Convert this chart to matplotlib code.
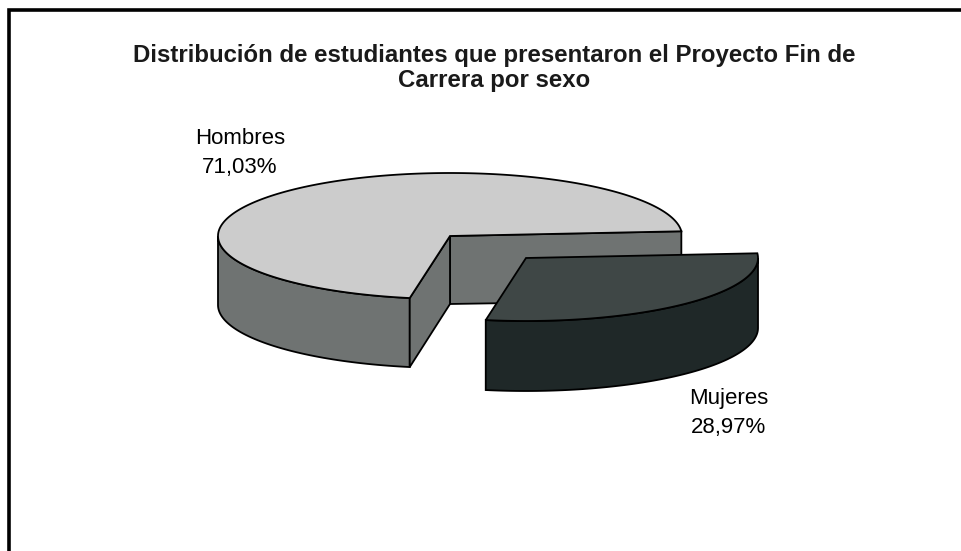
import numpy as np
import matplotlib
matplotlib.use("Agg")
import matplotlib.pyplot as plt

W, H = 961, 551
title = "Distribución de estudiantes que presentaron el Proyecto Fin de\nCarrera por sexo"
labels = ["Hombres", "Mujeres"]
values = [71.03, 28.97]
value_text = ["71,03%", "28,97%"]

plt.rcParams["font.family"] = ["Liberation Sans", "DejaVu Sans"]

fig = plt.figure(figsize=(W / 100, H / 100), dpi=100)
ax = fig.add_axes([0, 0, 1, 1])
ax.set_xlim(0, W)
ax.set_ylim(H, 0)
ax.axis("off")

# outer frame, open on the right and at the bottom like the crop
ax.plot([9, 9, W], [H, 10, 10], color="black", lw=2.6, solid_joinstyle="miter")

# pie geometry in pixels
cx, cy = 450, 236
rx, ry = 232, 63
depth = 69
start = 4.3
sweep = [v / sum(values) * 360 for v in values]
edge = "black"
lw = 1.3


def pt(a, ox=0, oy=0):
    a = np.radians(a)
    return cx + ox + rx * np.cos(a), cy + oy - ry * np.sin(a)


# hombres slice goes counter clockwise from the start angle
a0 = start
a1 = start + sweep[0]
arc = np.linspace(a0, a1, 200)
ax_, ay_ = pt(arc)

# outer wall, only the part facing the viewer (180 to a1)
front = np.linspace(180, a1, 60)
fx, fy = pt(front)
ax.fill(np.r_[fx, fx[::-1]], np.r_[fy, fy[::-1] + depth], fc="#6f7372", ec=edge, lw=lw, zorder=2)

# inner walls
x1, y1 = pt(a0)
x2, y2 = pt(a1)
ax.fill([cx, x1, x1, cx], [cy, y1, y1 + depth, cy + depth - 1], fc="#6f7372", ec=edge, lw=lw, zorder=1)
ax.fill([cx, x2, x2, cx], [cy, y2, y2 + depth, cy + depth - 1], fc="#6f7372", ec=edge, lw=lw, zorder=3)

# top of hombres
ax.fill(np.r_[cx, ax_], np.r_[cy, ay_], fc="#cccccc", ec=edge, lw=lw, zorder=4)

# mujeres slice pulled out of the pie
ox, oy = 76, 22
a2 = start - sweep[1]
arc2 = np.linspace(a2, start, 100)
mx, my = pt(arc2, ox, oy)
wall = arc2[arc2 <= 0]
wall = np.r_[wall, 0]
wx, wy = pt(wall, ox, oy)
ax.fill(np.r_[wx, wx[::-1]], np.r_[wy, wy[::-1] + depth + 1], fc="#1f2828", ec=edge, lw=lw, zorder=5)
ax.fill(np.r_[cx + ox, mx], np.r_[cy + oy, my], fc="#3f4746", ec=edge, lw=lw, zorder=6)

# texts
ax.text(494.5, 68, title, ha="center", va="center", fontsize=17.3, fontweight="bold",
        color="#1a1a1a", linespacing=1.15)
ax.text(240, 153, labels[0] + "\n" + value_text[0], ha="center", va="center", fontsize=16,
        color="black", linespacing=1.55)
ax.text(729, 413, labels[1] + "\n" + value_text[1], ha="center", va="center", fontsize=16,
        color="black", linespacing=1.55)

fig.savefig("out.png", dpi=100, facecolor="white")
